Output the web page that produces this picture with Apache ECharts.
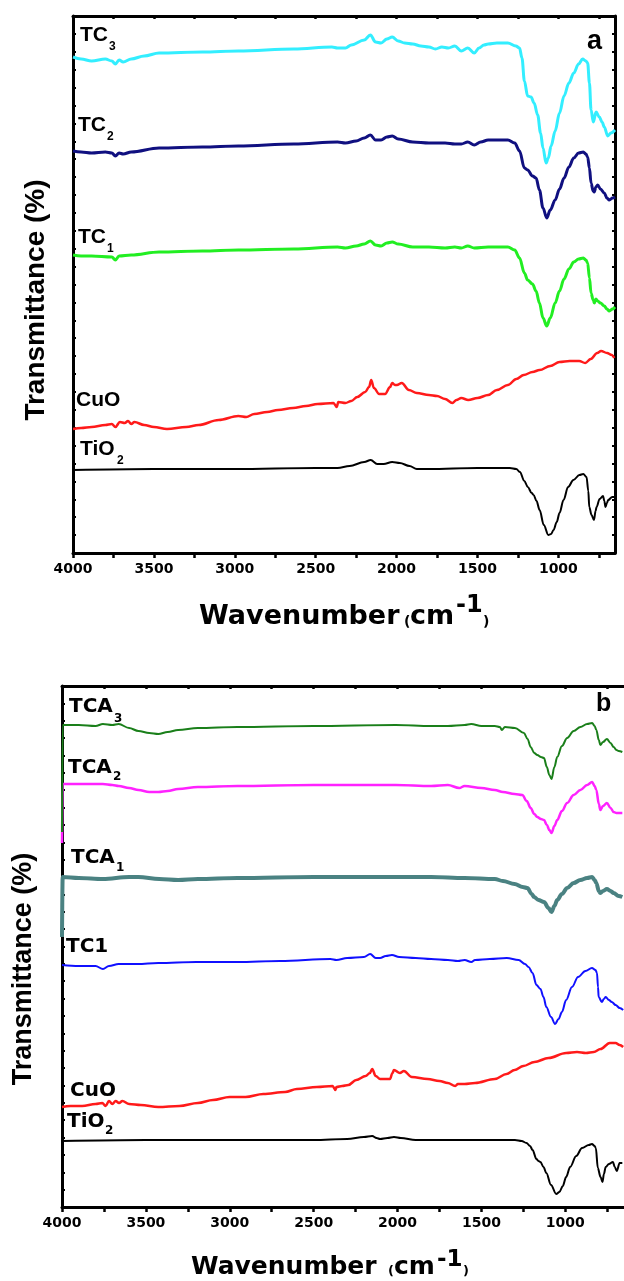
<!DOCTYPE html>
<html lang="en">
<head>
<meta charset="utf-8">
<title>FTIR</title>
<style type="text/css">
	html, body { margin: 0; padding: 0; background: #fff; }
	#chart { width: 624px; height: 1281px; }
</style>
</head>
<body>
<div id="chart"></div>
<script src="https://cdn.jsdelivr.net/npm/echarts@6.0.0/dist/echarts.min.js"></script>
<script type="text/javascript">
// tick labels / tick positions of the wavenumber axis (cm-1)
var wnLabels = [4000, 3500, 3000, 2500, 2000, 1500, 1000];
var wnTicks = [4000, 3750, 3500, 3250, 3000, 2750, 2500, 2250, 2000, 1750, 1500, 1250, 1000, 750];

// ---- panel a : [wavenumber, transmittance (a.u., offset)] ----
var aTC3 = [[4000,496],[3950,494],[3885,492],[3800,494],[3760,492],[3738,489],[3715,493],[3690,491],[3640,494],[3560,497],[3468,500],[3200,501],[2978,502],[2635,504],[2400,506],[2365,505],[2316,505],[2280,508],[2200,513],[2162,518],[2130,511],[2096,510],[2060,514],[2027,516],[1990,512],[1950,510],[1900,509],[1850,507],[1800,506],[1760,504],[1720,506],[1680,505],[1640,507],[1600,502],[1560,505],[1520,500],[1490,505],[1460,508],[1434,509],[1380,510],[1312,510],[1263,507],[1240,505],[1225,495],[1210,472],[1190,457],[1169,456],[1150,450],[1128,438],[1110,420],[1095,405],[1076,390],[1062,395],[1045,407],[1020,422],[993,440],[965,457],[935,470],[905,480],[875,489],[850,494],[830,492],[819,490],[808,470],[798,443],[784,431],[767,441],[747,436],[730,431],[716,426],[695,417],[675,420],[650,423]];
var aTC2 = [[4000,402],[3950,401],[3885,400],[3800,401],[3760,400],[3738,397],[3715,400],[3690,399],[3640,401],[3468,405],[3200,406],[2978,407],[2635,409],[2365,411],[2316,410],[2250,412],[2200,415],[2162,418],[2130,413],[2096,413],[2060,416],[2027,417],[1990,414],[1900,411],[1800,410],[1700,410],[1640,409],[1600,409],[1560,411],[1520,408],[1480,411],[1434,413],[1312,413],[1270,410],[1240,402],[1210,385],[1190,383],[1160,377],[1138,375],[1117,363],[1095,345],[1072,335],[1050,343],[1020,353],[993,364],[965,375],[935,386],[905,395],[875,400],[846,401],[830,399],[819,396],[808,385],[798,370],[785,362],[778,361],[768,366],[757,368],[740,364],[716,360],[700,355],[685,353],[665,355],[650,356]];
var aTC1 = [[4000,298],[3950,297],[3885,297],[3760,296],[3738,293],[3715,297],[3640,298],[3468,301],[3200,302],[2978,303],[2635,304],[2365,306],[2316,305],[2250,307],[2200,309],[2162,312],[2130,308],[2096,307],[2060,310],[2027,311],[1990,309],[1900,306],[1800,306],[1700,305],[1640,306],[1600,305],[1560,307],[1520,305],[1434,306],[1312,306],[1270,303],[1240,295],[1210,280],[1190,273],[1160,269],[1138,262],[1117,250],[1095,235],[1072,227],[1050,235],[1020,250],[993,262],[965,274],[935,284],[905,291],[875,294],[846,295],[830,293],[819,290],[808,275],[798,260],[785,253],[778,250],[768,254],[757,252],[740,250],[716,247],[700,244],[685,242],[665,244],[650,246]];
var aCuO = [[4000,124],[3950,125],[3885,126],[3800,128],[3760,129],[3738,126],[3710,131],[3680,130],[3660,132],[3640,129],[3620,131],[3560,128],[3500,126],[3419,124],[3300,126],[3223,128],[3100,133],[2978,137],[2929,136],[2880,139],[2800,141],[2733,143],[2640,145],[2560,147],[2488,149],[2390,150],[2370,146],[2360,151],[2316,150],[2280,152],[2243,156],[2194,161],[2170,166],[2157,173],[2140,165],[2108,159],[2071,159],[2040,166],[2027,170],[2010,168],[1998,168],[1968,170],[1924,163],[1875,160],[1800,158],[1750,157],[1700,154],[1655,150],[1630,153],[1600,155],[1557,153],[1500,155],[1434,158],[1380,163],[1312,168],[1260,174],[1214,178],[1160,181],[1116,183],[1050,187],[993,191],[930,192],[871,192],[834,190],[800,194],[760,200],[736,202],[699,200],[670,198],[655,195]];
var aTiO2 = [[4000,83],[3500,84],[3000,84],[2500,85],[2365,85],[2290,87],[2200,91],[2160,93],[2120,89],[2080,89],[2027,91],[1980,90],[1920,87],[1875,84],[1800,84],[1500,85],[1300,85],[1260,84],[1238,81],[1210,72],[1189,66],[1165,60],[1153,58],[1135,52],[1116,43],[1090,28],[1062,18],[1045,19],[1030,23],[1010,31],[993,40],[968,53],[940,66],[907,73],[870,78],[846,79],[826,76],[815,62],[809,46],[795,38],[780,33],[770,42],[764,46],[745,54],[724,57],[716,52],[709,46],[700,50],[692,53],[667,56],[650,56]];

// ---- panel b ----
var bTCA3 = [[4000,375],[3996,482],[3900,482],[3800,481],[3756,483],[3700,482],[3662,483],[3600,479],[3544,476],[3480,474],[3426,473],[3370,475],[3308,477],[3190,479],[2954,480],[2500,481],[2010,482],[1800,481],[1700,481],[1600,482],[1561,483],[1500,481],[1420,481],[1390,480],[1378,477],[1360,480],[1300,479],[1246,474],[1225,468],[1206,460],[1185,454],[1167,452],[1145,450],[1127,449],[1110,440],[1095,432],[1082,428],[1065,440],[1048,450],[1020,461],[989,469],[950,476],[910,480],[870,483],[840,484],[825,481],[815,477],[800,467],[791,462],[775,465],[752,468],[730,464],[712,460],[695,457],[682,456],[660,455]];
var bTCA2 = [[4000,364],[3996,423],[3900,423],[3756,423],[3700,422],[3662,421],[3600,419],[3544,417],[3480,415],[3426,415],[3370,416],[3308,418],[3190,420],[2954,421],[2500,422],[2010,422],[1800,421],[1700,422],[1632,419],[1600,421],[1500,419],[1420,417],[1372,415],[1302,413],[1256,412],[1230,406],[1206,399],[1185,393],[1167,390],[1145,388],[1127,387],[1110,382],[1095,377],[1082,374],[1065,381],[1048,387],[1020,396],[989,404],[950,412],[910,417],[870,422],[840,425],[825,421],[815,417],[800,403],[791,397],[775,401],[752,404],[730,399],[712,395],[695,394],[682,394],[660,394]];
var bTCA1 = [[4000,270],[3996,330],[3900,329],[3756,328],[3600,330],[3544,330],[3420,328],[3308,327],[3190,328],[2954,329],[2500,330],[2010,330],[1800,330],[1600,329],[1420,328],[1372,326],[1302,323],[1254,320],[1226,319],[1200,313],[1186,310],[1160,307],[1127,305],[1100,299],[1082,295],[1065,301],[1048,307],[1020,313],[989,319],[950,324],[910,327],[870,329],[840,330],[825,327],[815,324],[800,316],[791,314],[775,316],[752,318],[730,316],[712,314],[682,311],[660,310]];
var bTC1 = [[4000,242],[3900,241],[3800,241],[3756,238],[3720,241],[3662,243],[3550,243],[3426,244],[3200,245],[2954,245],[2700,246],[2400,248],[2364,247],[2300,249],[2200,250],[2163,253],[2130,249],[2104,249],[2070,251],[2033,252],[1990,250],[1892,249],[1800,248],[1700,247],[1640,246],[1600,247],[1560,245],[1538,247],[1450,248],[1349,249],[1278,247],[1240,243],[1219,240],[1195,234],[1172,222],[1148,218],[1130,210],[1113,200],[1085,190],[1061,183],[1040,188],[1020,195],[995,207],[960,220],[924,230],[880,236],[841,239],[820,237],[811,234],[805,220],[801,210],[782,205],[770,208],[759,210],[740,207],[723,205],[700,202],[676,199],[655,197]];
var bCuO = [[4000,100],[3950,101],[3880,101],[3800,103],[3760,104],[3740,101],[3720,106],[3700,103],[3680,106],[3660,104],[3640,106],[3600,103],[3530,102],[3426,100],[3300,101],[3190,104],[3100,107],[3001,110],[2950,110],[2906,110],[2800,113],[2670,115],[2600,118],[2480,120],[2387,121],[2370,117],[2364,120],[2330,121],[2293,122],[2246,127],[2190,131],[2165,134],[2151,138],[2130,131],[2104,128],[2045,128],[2030,134],[2021,137],[1986,134],[1962,136],[1915,130],[1821,128],[1750,126],[1700,124],[1656,121],[1640,123],[1600,123],[1538,124],[1420,128],[1350,133],[1302,137],[1250,141],[1184,145],[1100,149],[995,154],[930,155],[877,154],[830,155],[790,158],[735,164],[700,164],[676,162],[655,160]];
var bTiO2 = [[4000,66],[3500,67],[3000,67],[2500,67],[2300,68],[2200,70],[2151,71],[2125,69],[2104,68],[2060,69],[2021,70],[1980,69],[1892,67],[1700,67],[1400,67],[1300,67],[1260,66],[1231,64],[1210,61],[1195,57],[1172,48],[1160,46],[1148,45],[1130,40],[1113,34],[1085,22],[1054,13],[1035,15],[1015,21],[995,30],[971,40],[935,51],[900,59],[860,62],[841,63],[825,61],[818,59],[806,39],[790,30],[778,25],[770,33],[759,40],[740,43],[716,45],[705,40],[693,36],[676,44],[660,44]];

var DJ = '"DejaVu Sans", sans-serif';
var LS = '"Liberation Sans", Arial, sans-serif';

var myChart = echarts.init(document.getElementById('chart'), null, { renderer: 'canvas' });

// wavenumber axis (bottom with labels, or top frame)
function xAx(grid, top) {
	return {
		type: 'value', gridIndex: grid, position: top ? 'top' : 'bottom',
		min: 650, max: 4000, inverse: true,
		axisLine: { show: true, onZero: false, lineStyle: { color: '#000', width: 3 } },
		axisTick: { show: true, inside: top, length: top ? 3 : 5, customValues: wnTicks, lineStyle: { color: '#000', width: 2.5 } },
		axisLabel: {
			show: !top, customValues: wnLabels, margin: 9, color: '#000',
			fontSize: 14, fontWeight: 'bold', fontFamily: DJ,
			formatter: function (v) { return String(v); }
		},
		splitLine: { show: false }
	};
}
function yAx(grid, max, right) {
	return {
		type: 'value', gridIndex: grid, position: right ? 'right' : 'left',
		min: 0, max: max, interval: max / 30,
		axisLine: { show: true, onZero: false, lineStyle: { color: '#000', width: 3 } },
		axisTick: { show: true, inside: true, length: 3, lineStyle: { color: '#000', width: 2 } },
		axisLabel: { show: false },
		splitLine: { show: false }
	};
}
function line(name, data, xi, color, w) {
	return {
		name: name, type: 'line', data: data, xAxisIndex: xi, yAxisIndex: xi === 0 ? 0 : 2,
		showSymbol: false, smooth: 0.35, smoothMonotone: 'x', silent: true,
		lineStyle: { color: color, width: w }
	};
}
function txt(x, y, s, font, align) {
	return { type: 'text', x: x, y: y, silent: true,
		style: { text: s, font: font, fill: '#000', textAlign: align || 'left', textVerticalAlign: 'middle' } };
}

var graphics = [
	// panel a curve labels
	txt(80, 35, 'TC', 'bold 21px ' + LS), txt(109, 47, '3', 'bold 12px ' + LS),
	txt(78, 125, 'TC', 'bold 21px ' + LS), txt(107, 137, '2', 'bold 12px ' + LS),
	txt(78, 237, 'TC', 'bold 21px ' + LS), txt(107, 249, '1', 'bold 12px ' + LS),
	txt(76, 400, 'CuO', 'bold 21px ' + LS),
	txt(80, 449, 'TiO', 'bold 21px ' + LS), txt(117, 461, '2', 'bold 12px ' + LS),
	txt(587, 42, 'a', 'bold 27px ' + LS),
	// panel b curve labels
	txt(69, 707, 'TCA', 'bold 20px ' + DJ), txt(114, 719, '3', 'bold 12px ' + DJ),
	txt(68, 768, 'TCA', 'bold 20px ' + DJ), txt(113, 777, '2', 'bold 12px ' + DJ),
	txt(71, 858, 'TCA', 'bold 20px ' + DJ), txt(116, 868, '1', 'bold 12px ' + DJ),
	txt(66, 947, 'TC1', 'bold 20px ' + DJ),
	txt(70, 1091, 'CuO', 'bold 20px ' + DJ),
	txt(67, 1122, 'TiO', 'bold 20px ' + DJ), txt(105, 1131, '2', 'bold 12px ' + DJ),
	txt(596, 704, 'b', 'bold 25px ' + LS),
	// axis titles panel a
	txt(199, 617, 'Wavenumber', 'bold 27px ' + DJ),
	txt(404, 622, '(', 'bold 14px ' + DJ),
	txt(410, 617, 'cm', 'bold 27px ' + DJ),
	txt(456, 606, '-1', 'bold 24px ' + DJ),
	txt(483, 622, ')', 'bold 14px ' + DJ),
	// axis titles panel b
	txt(191, 1267, 'Wavenumber', 'bold 25px ' + DJ),
	txt(388, 1272, '(', 'bold 13px ' + DJ),
	txt(394, 1267, 'cm', 'bold 25px ' + DJ),
	txt(437, 1260, '-1', 'bold 23px ' + DJ),
	txt(463, 1272, ')', 'bold 13px ' + DJ)
];
var yTitleA = txt(36, 300, 'Transmittance (%)', 'bold 28px ' + LS, 'center');
yTitleA.rotation = Math.PI / 2;
var yTitleB = txt(24, 969, 'Transmittance (%)', 'bold 27px ' + LS, 'center');
yTitleB.rotation = Math.PI / 2;
graphics.push(yTitleA, yTitleB);

var option = {
	animation: false,
	backgroundColor: '#fff',
	grid: [
		{ left: 73, top: 16, width: 542, height: 537 },
		{ left: 62, top: 686, width: 566, height: 521 }
	],
	xAxis: [xAx(0, false), xAx(0, true), xAx(1, false), xAx(1, true)],
	yAxis: [yAx(0, 537, false), yAx(0, 537, true), yAx(1, 521, false)],
	series: [
		line('TiO2', aTiO2, 0, '#000000', 2),
		line('CuO', aCuO, 0, '#ff1a1a', 2.5),
		line('TC1', aTC1, 0, '#22ee22', 3),
		line('TC2', aTC2, 0, '#101080', 3),
		line('TC3', aTC3, 0, '#33eeff', 3),
		line('TiO2', bTiO2, 2, '#000000', 2),
		line('CuO', bCuO, 2, '#ff1a1a', 2.5),
		line('TC1', bTC1, 2, '#1010ff', 2),
		line('TCA1', bTCA1, 2, '#4a8282', 4),
		line('TCA2', bTCA2, 2, '#ff22ff', 2.5),
		line('TCA3', bTCA3, 2, '#1a7f1a', 2)
	],
	graphic: graphics
};
myChart.setOption(option);
</script>
</body>
</html>
